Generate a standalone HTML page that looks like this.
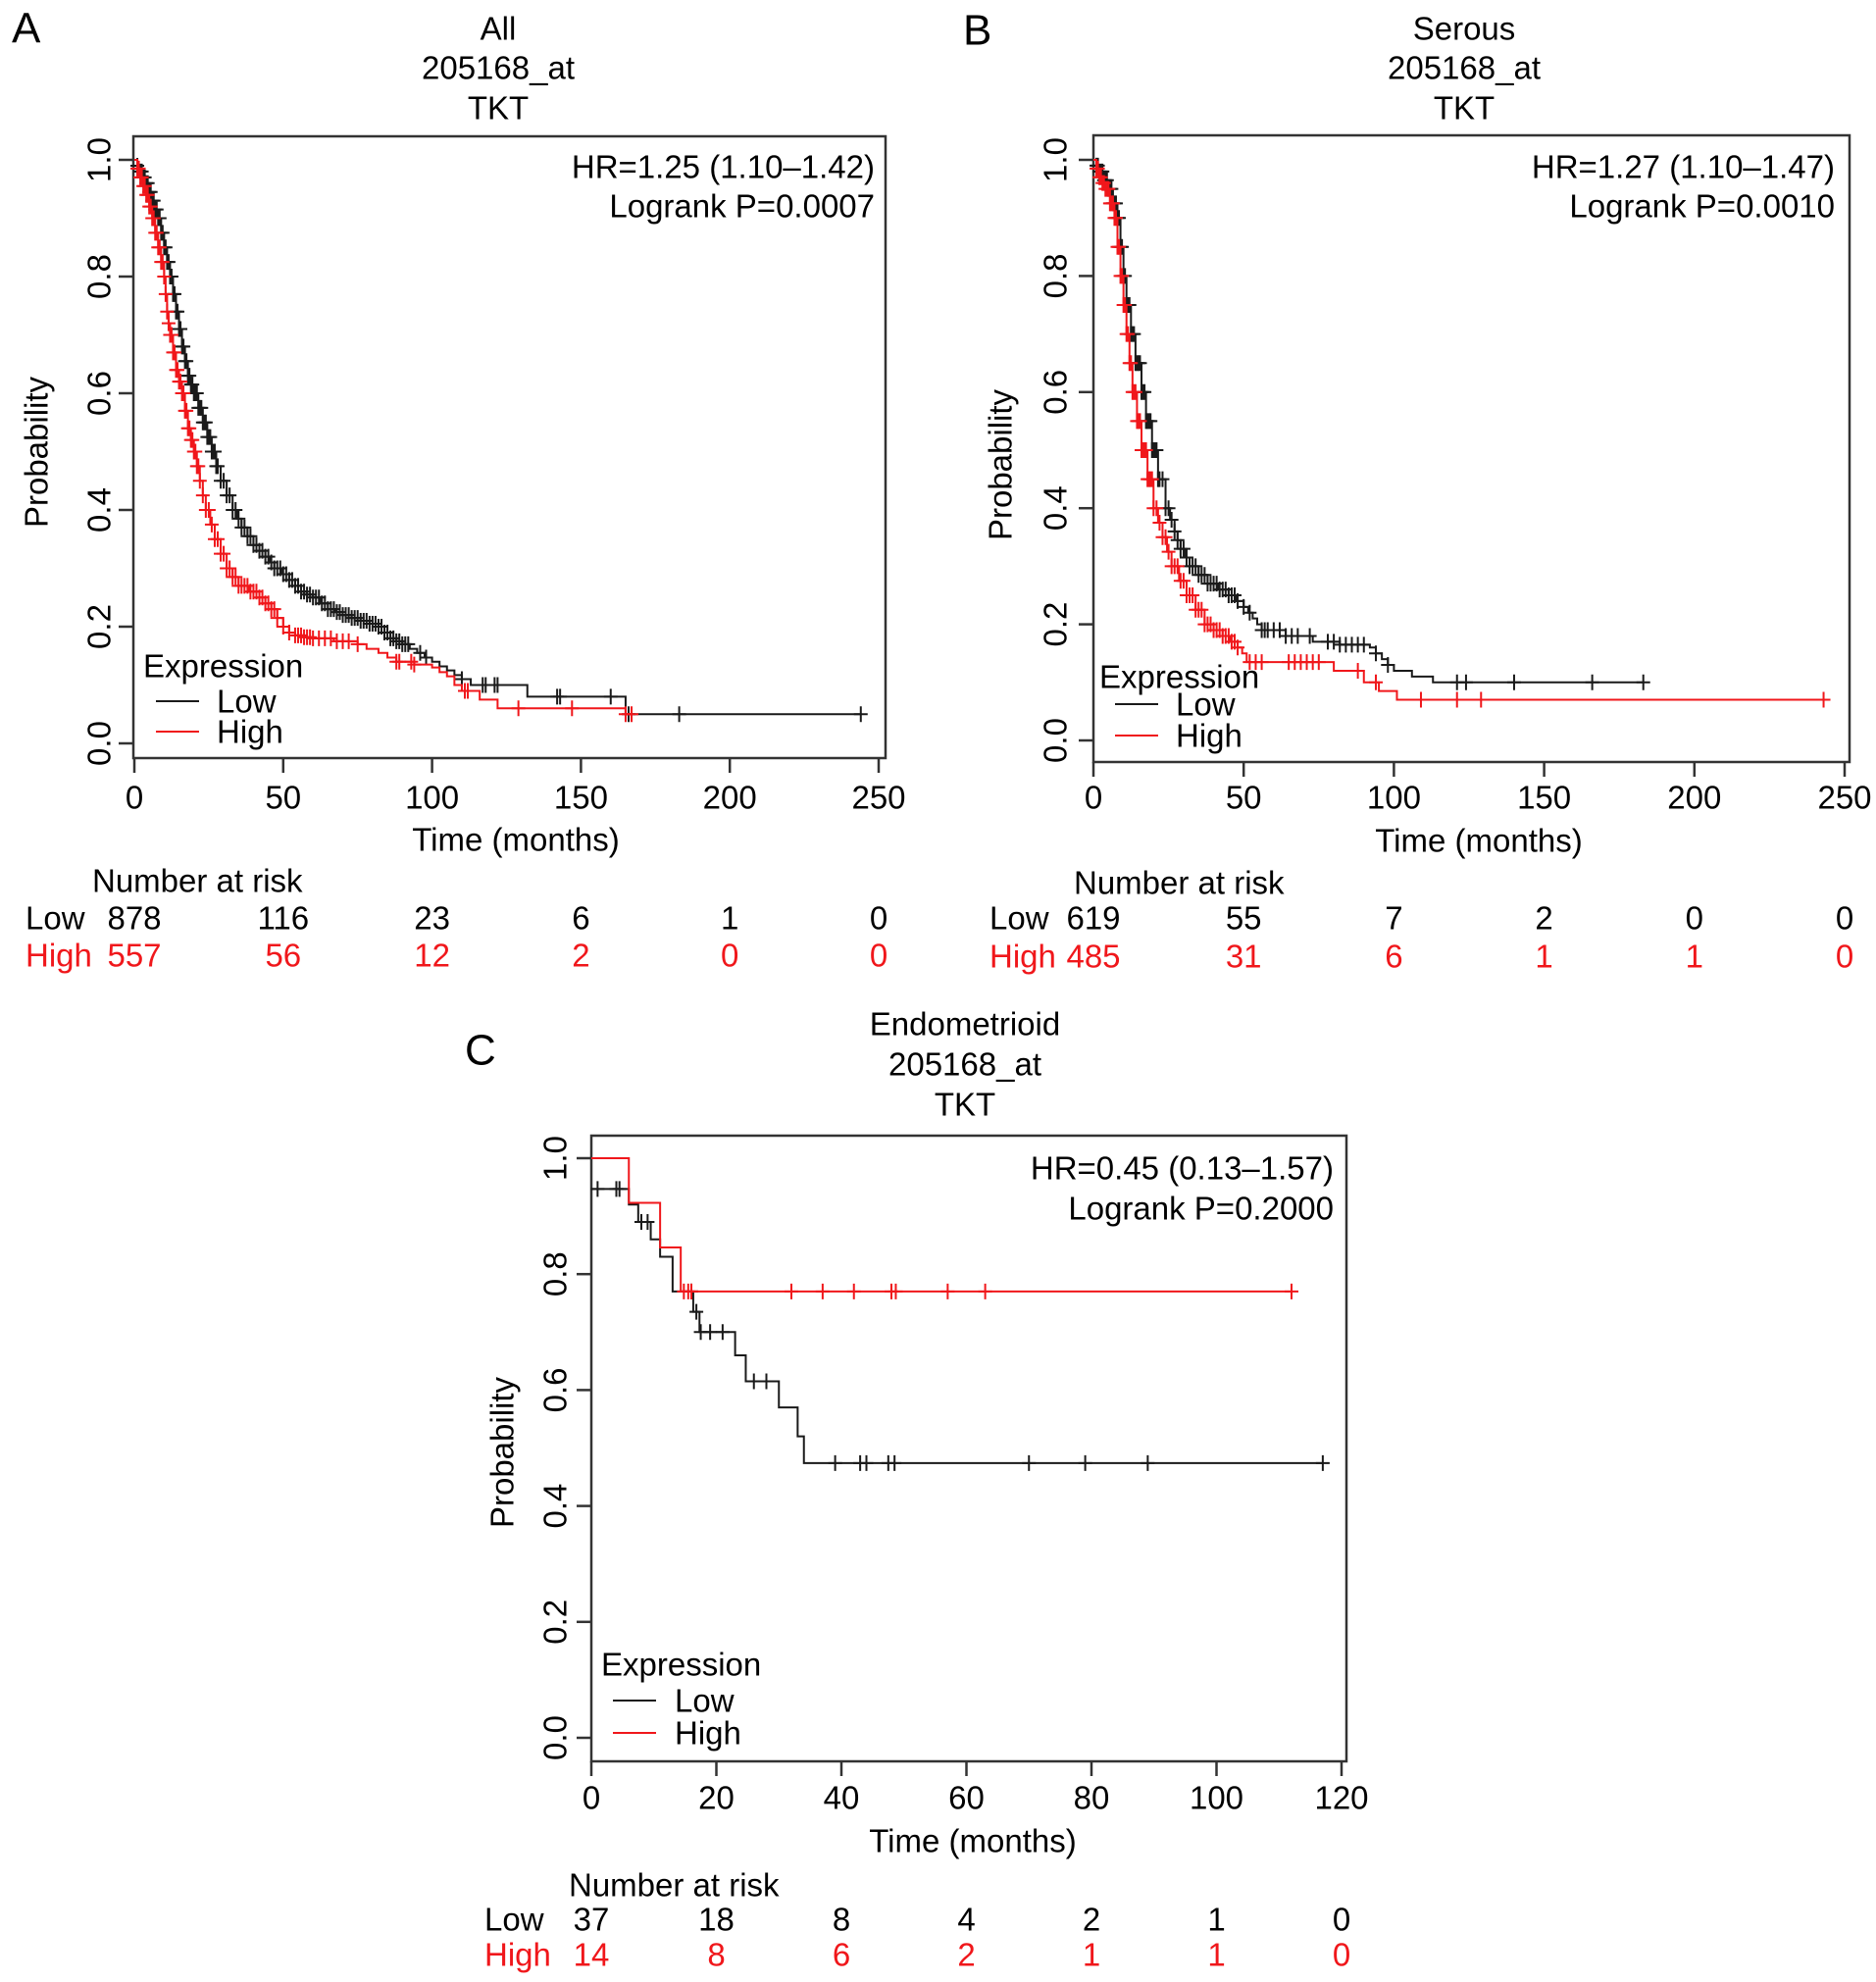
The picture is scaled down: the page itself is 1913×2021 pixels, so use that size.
<!DOCTYPE html>
<html><head><meta charset="utf-8">
<style>
html,body{margin:0;padding:0;background:#fff;}
svg{display:block;font-family:"Liberation Sans",Arial,sans-serif;}
</style></head>
<body>
<svg id="fig" width="1913" height="2021" viewBox="0 0 1913 2021" xmlns="http://www.w3.org/2000/svg"></svg>
<script>
// ---------- Panel A (All) ----------
const aLowT = [0,1,2,3,4,5,6,7,8,9,10,11,12,13,14,15,16,17,18,19,20,21.5,23,24.5,26,27.5,29,31,33,34.5,36,38,40,42,44,45.5,47,49.5,52,54,56,58,60,62.5,65,67.5,70,73,76,79,82,84,86,88,90,92.5,95,97.5,100,102.5,105,107.5,110,113,132,165];
const aLowS = [1,0.99,0.98,0.97,0.96,0.945,0.93,0.915,0.9,0.875,0.85,0.825,0.8,0.77,0.74,0.71,0.68,0.655,0.63,0.615,0.6,0.575,0.55,0.525,0.5,0.475,0.45,0.425,0.4,0.385,0.37,0.355,0.34,0.33,0.32,0.31,0.3,0.29,0.28,0.27,0.26,0.255,0.25,0.24,0.23,0.225,0.22,0.215,0.21,0.205,0.2,0.19,0.18,0.175,0.17,0.162,0.155,0.147,0.14,0.132,0.125,0.117,0.11,0.1,0.08,0.05];
const aLowEnd = 244;
const aLowCens = [1,2,2.5,3,3.5,4,4.5,5,5.5,6,6.5,7,7.5,8,8.5,9,9.5,10,10.5,11,11.5,12,12.5,13,13.5,14,14.5,15,15.5,16,16.5,17,17.5,18,18.5,19,19.5,20,20.5,21,21.5,22,22.5,23,23.5,24,24.5,25,25.5,26,26.5,27,27.5,28,29,30,31,32,33,34,35,36,37,38,39,40,41,42,43,44,45,46,47,48,49,50,51,52,53,54,55,56,57,58,59,60,61,62,63,64,65,66,67,68,69,70,71,72,73,74,75,76,77,78,79,80,81,82,83,84,85,86,87,88,89,90,91,92,96,98,110,117,118,121,122,142,143,160,166,183,244];
const aHighT = [0,1,2,3,4,5,6,7,8,9,10,10.5,11,11.5,12,13,14,15,16,17,18,19,20,21,22,23,24,25.5,27,29,31,33,35,38.5,42,44,46,48,50,52,54,57,60,67,75,78,82,85,88,94,100,102.5,105,107.5,110,116,122,165];
const aHighS = [1,0.985,0.97,0.955,0.94,0.92,0.9,0.875,0.85,0.825,0.8,0.77,0.74,0.72,0.7,0.67,0.64,0.62,0.6,0.57,0.54,0.52,0.5,0.475,0.45,0.425,0.4,0.375,0.35,0.325,0.3,0.285,0.27,0.26,0.25,0.24,0.23,0.215,0.2,0.19,0.185,0.182,0.18,0.175,0.17,0.162,0.155,0.147,0.14,0.135,0.13,0.122,0.115,0.1,0.09,0.075,0.06,0.05];
const aHighEnd = 167;
const aHighCens = [1,1.5,2,2.5,3,3.5,4,4.5,5,5.5,6,6.5,7,7.5,8,8.5,9,9.5,10,10.5,11,11.5,12,12.5,13,13.5,14,14.5,15,15.5,16,16.5,17,17.5,18,18.5,19,19.5,20,20.5,21,21.5,22,23,24,25,26,27,28,29,30,31,32,33,34,35,36,37,38,39,40,41,42,43,44,45,46,47,48,50,52,54,55,56,57,58,59,60,62,64,66,68,70,72,75,88,89,93,94,111,112,129,147,165,167];
const aRiskLow = ["878","116","23","6","1","0"];
const aRiskHigh = ["557","56","12","2","0","0"];
// ---------- Panel B (Serous) ----------
const bLowT = [0,1,2,3.5,5,6.5,8,9,10,11,12.5,14,16,17.5,19.5,21.5,24,25.5,27,28,29,30.5,32,35,38,41.5,45,47.5,50,51.5,53,54.5,56,64,73,82,92,94,96,98,100,106,113];
const bLowS = [1,0.99,0.98,0.965,0.95,0.925,0.9,0.85,0.8,0.75,0.7,0.65,0.6,0.55,0.5,0.45,0.4,0.38,0.36,0.345,0.33,0.315,0.3,0.285,0.27,0.26,0.25,0.24,0.23,0.22,0.21,0.2,0.19,0.18,0.17,0.165,0.16,0.15,0.14,0.13,0.12,0.11,0.1];
const bLowEnd = 183;
const bLowCens = [1,1.5,2,2.5,3,3.5,4,4.5,5,5.5,6,6.5,7,7.5,8,8.5,9,9.5,10,10.5,11,11.5,12,12.5,13,13.5,14,14.5,15,15.5,16,16.5,17,17.5,18,18.5,19,19.5,20,20.5,21,21.5,22,23,24,25,26,27,28,29,30,31,32,33,34,35,36,37,38,39,40,41,42,43,44,45,46,47,48,50,52,56,57,58,60,62,64,66,68,72,78,80,82,84,86,88,90,94,98,121,124,140,166,183];
const bHighT = [0,1,2,3,4,5.5,7,8,9,10,11,12,13,14.5,16,18,20,21.5,23,24.5,26,28.5,31,34,37,40,43,45.5,48,49.5,51,80,90,95,101];
const bHighS = [1,0.985,0.97,0.96,0.95,0.925,0.9,0.85,0.8,0.75,0.7,0.65,0.6,0.55,0.5,0.45,0.4,0.375,0.35,0.325,0.3,0.275,0.25,0.225,0.2,0.19,0.18,0.17,0.16,0.15,0.135,0.12,0.1,0.085,0.07];
const bHighEnd = 243;
const bHighCens = [1,1.5,2,2.5,3,3.5,4,4.5,5,5.5,6,6.5,7,7.5,8,8.5,9,9.5,10,10.5,11,11.5,12,12.5,13,13.5,14,14.5,15,15.5,16,16.5,17,17.5,18,18.5,19,19.5,20,21,22,23,24,25,26,27,28,29,30,31,32,33,34,35,36,37,38,39,40,41,42,43,44,45,46,47,48,52,54,56,65,67,69,71,73,75,88,94,109,121,129,243];
const bRiskLow = ["619","55","7","2","0","0"];
const bRiskHigh = ["485","31","6","1","1","0"];
// ---------- Panel C (Endometrioid) ----------
const cLowT = [0,6,7.5,9.5,11,13,16.3,17.3,23,24.7,30,33,34];
const cLowS = [0.947,0.92,0.89,0.86,0.83,0.77,0.735,0.70,0.66,0.615,0.57,0.52,0.474];
const cLowEnd = 117;
const cLowCens = [1,4,4.5,8,9,16,16.8,17.5,19,21,26,28,39,43,44,47.5,48.5,70,79,89,117];
const cHighT = [0,6,11,14.3];
const cHighS = [1,0.923,0.846,0.77];
const cHighEnd = 112;
const cHighCens = [14.8,15.5,16,32,37,42,48,48.7,57,63,112];
const cRiskLow = ["37","18","8","4","2","1","0"];
const cRiskHigh = ["14","8","6","2","1","1","0"];

const xTicksAB = [0,50,100,150,200,250];
const xTicksC = [0,20,40,60,80,100,120];
const yTicks = [0,0.2,0.4,0.6,0.8,1.0];

const NS = "http://www.w3.org/2000/svg";
const svg = document.getElementById('fig');
const RED = "#f0171b", BLK = "#1a1a1a";
const FS = 33;

function mk(tag, attrs, parent, text){
  const e = document.createElementNS(NS, tag);
  for (const k in attrs) e.setAttribute(k, attrs[k]);
  if (text !== undefined) e.textContent = text;
  (parent || svg).appendChild(e);
  return e;
}

function stepVal(T,S,t){ let v=S[0]; for(let i=0;i<T.length;i++){ if(T[i]<=t) v=S[i]; } return v; }

function drawPanel(P){
  const g = mk('g',{});
  
  
  const sx = t => P.x0 + (t/P.xmax)*(P.x1-P.x0);
  const sy = s => P.y0 + s*(P.y1-P.y0);
  const L = mk('text',{x:P.letterX,y:P.letterY,'font-size':44,'dominant-baseline':'central'},g,P.letter);
  
  
  P.titles.forEach((tx,i)=>{
    const e = mk('text',{x:P.titleX,y:P.titleY[i],'font-size':FS,'text-anchor':'middle','dominant-baseline':'central'},g,tx);
    
    
  });
  const box = mk('rect',{x:P.box[0],y:P.box[1],width:P.box[2]-P.box[0],height:P.box[3]-P.box[1],fill:'none',stroke:'#333','stroke-width':2.5},g);
  
  
  P.xTicks.forEach(v=>{
    const x = sx(v);
    const tk = mk('line',{x1:x,x2:x,y1:P.box[3],y2:P.box[3]+15,stroke:'#333','stroke-width':2.5},g);
    
    
    const tl = mk('text',{x:x,y:P.xLabY,'font-size':FS,'text-anchor':'middle','dominant-baseline':'central'},g,String(v));
    
    
  });
  yTicks.forEach(v=>{
    const y = sy(v);
    const tk = mk('line',{x1:P.box[0]-15,x2:P.box[0],y1:y,y2:y,stroke:'#333','stroke-width':2.5},g);
    
    
    const tl = mk('text',{x:0,y:0,'font-size':FS,'text-anchor':'middle','dominant-baseline':'central',transform:`translate(${P.yLabX},${y}) rotate(-90)`},g,v.toFixed(1));
    
    
  });
  const xt = mk('text',{x:P.xTitle[0],y:P.xTitle[1],'font-size':FS,'text-anchor':'middle','dominant-baseline':'central'},g,'Time (months)');
  
  
  const yt = mk('text',{x:0,y:0,'font-size':FS,'text-anchor':'middle','dominant-baseline':'central',transform:`translate(${P.yTitle[0]},${P.yTitle[1]}) rotate(-90)`},g,'Probability');
  
  
  const hr = mk('text',{x:P.hrX,y:P.hrY[0],'font-size':FS,'text-anchor':'end','dominant-baseline':'central'},g,P.hr[0]);
  
  
  const lr = mk('text',{x:P.hrX,y:P.hrY[1],'font-size':FS,'text-anchor':'end','dominant-baseline':'central'},g,P.hr[1]);
  
  
  P.series.forEach(sr=>{
    let d = `M${sx(sr.T[0])},${sy(sr.S[0])}`;
    for(let i=1;i<sr.T.length;i++){ d += ` H${sx(sr.T[i])} V${sy(sr.S[i])}`; }
    d += ` H${sx(sr.end)}`;
    const path = mk('path',{d:d,fill:'none',stroke:sr.color,'stroke-width':2},g);
    
    
    sr.cens.forEach(t=>{
      const x = sx(t), y = sy(stepVal(sr.T,sr.S,t));
      const c = mk('path',{d:`M${x-7},${y} H${x+7} M${x},${y-8} V${y+8}`,stroke:sr.color,'stroke-width':2,fill:'none'},g);
      
      
    });
  });
  const lg = mk('g',{},g);
  
  
  const lt = mk('text',{x:P.leg.x,y:P.leg.y,'font-size':FS,'dominant-baseline':'central'},lg,'Expression');
  
  
  [['Low',BLK,P.leg.yl],['High',RED,P.leg.yh]].forEach(([nm,col,yy])=>{
    const ln = mk('line',{x1:P.leg.lx,x2:P.leg.lx+44,y1:yy,y2:yy,stroke:col,'stroke-width':2},lg);
    
    
    const tx = mk('text',{x:P.leg.tx,y:yy,'font-size':FS,'dominant-baseline':'central'},lg,nm);
    
    
  });
  const nar = mk('text',{x:P.risk.narX,y:P.risk.narY,'font-size':FS,'dominant-baseline':'central'},g,'Number at risk');
  
  
  const rl = mk('text',{x:P.risk.lx,y:P.risk.yl,'font-size':FS,'dominant-baseline':'central'},g,'Low');
  
  
  const rh = mk('text',{x:P.risk.lx,y:P.risk.yh,'font-size':FS,'dominant-baseline':'central',fill:RED},g,'High');
  
  
  P.xTicks.forEach((v,i)=>{
    const a = mk('text',{x:sx(v),y:P.risk.yl,'font-size':FS,'text-anchor':'middle','dominant-baseline':'central'},g,P.riskLow[i]);
    
    
    const b = mk('text',{x:sx(v),y:P.risk.yh,'font-size':FS,'text-anchor':'middle','dominant-baseline':'central',fill:RED},g,P.riskHigh[i]);
    
    
  });
}

drawPanel({key:'all',letter:'A',letterX:12,letterY:29,titles:['All','205168_at','TKT'],titleX:508,titleY:[29,69,110],
  box:[136,139,903,773],x0:137,x1:896,xmax:250,y0:758,y1:163,xTicks:xTicksAB,xLabY:813,yLabX:101,
  xTitle:[526,856],yTitle:[37,461],hrX:892,hrY:[170,210],hr:['HR=1.25 (1.10\u20131.42)','Logrank P=0.0007'],
  series:[{name:'low',T:aLowT,S:aLowS,end:aLowEnd,cens:aLowCens,color:BLK},{name:'high',T:aHighT,S:aHighS,end:aHighEnd,cens:aHighCens,color:RED}],
  leg:{x:146,y:679,lx:159,tx:221,yl:715,yh:746},
  risk:{narX:94,narY:898,lx:26,yl:936,yh:974},riskLow:aRiskLow,riskHigh:aRiskHigh});

drawPanel({key:'serous',letter:'B',letterX:982,letterY:31,titles:['Serous','205168_at','TKT'],titleX:1493,titleY:[29,69,110],
  box:[1115,138,1886,777],x0:1115,x1:1881,xmax:250,y0:755,y1:163,xTicks:xTicksAB,xLabY:813,yLabX:1076,
  xTitle:[1508,857],yTitle:[1020,474],hrX:1871,hrY:[170,210],hr:['HR=1.27 (1.10\u20131.47)','Logrank P=0.0010'],
  series:[{name:'low',T:bLowT,S:bLowS,end:bLowEnd,cens:bLowCens,color:BLK},{name:'high',T:bHighT,S:bHighS,end:bHighEnd,cens:bHighCens,color:RED}],
  leg:{x:1121,y:690,lx:1137,tx:1199,yl:718,yh:750},
  risk:{narX:1095,narY:900,lx:1009,yl:936,yh:975},riskLow:bRiskLow,riskHigh:bRiskHigh});

drawPanel({key:'endometrioid',letter:'C',letterX:474,letterY:1071,titles:['Endometrioid','205168_at','TKT'],titleX:984,titleY:[1044,1085,1126],
  box:[603,1158,1373,1796],x0:603,x1:1368,xmax:120,y0:1772,y1:1181,xTicks:xTicksC,xLabY:1833,yLabX:566,
  xTitle:[992,1877],yTitle:[512,1481],hrX:1360,hrY:[1191,1232],hr:['HR=0.45 (0.13\u20131.57)','Logrank P=0.2000'],
  series:[{name:'low',T:cLowT,S:cLowS,end:cLowEnd,cens:cLowCens,color:BLK},{name:'high',T:cHighT,S:cHighS,end:cHighEnd,cens:cHighCens,color:RED}],
  leg:{x:613,y:1697,lx:625,tx:688,yl:1734,yh:1767},
  risk:{narX:580,narY:1922,lx:494,yl:1957,yh:1993},riskLow:cRiskLow,riskHigh:cRiskHigh});
</script>
</body></html>
